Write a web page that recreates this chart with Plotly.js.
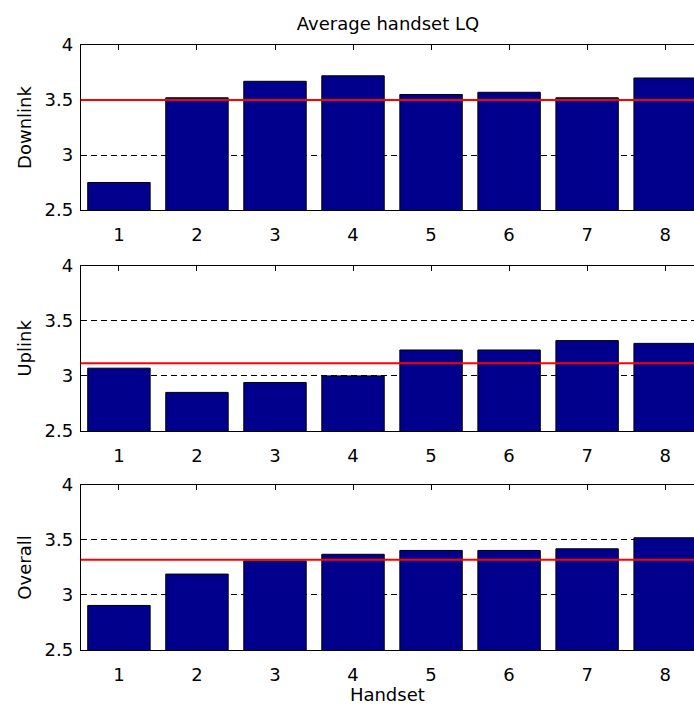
<!DOCTYPE html>
<html>
<head>
<meta charset="utf-8">
<script src="https://cdn.plot.ly/plotly-3.0.1.min.js"></script>
<style>
html, body { margin:0; padding:0; background:#fff; overflow:hidden; }
#chart { width:694px; height:705px; }
</style>
</head>
<body>
<div id="chart"></div>
<script>
// ---- data ----
const handsets = [1, 2, 3, 4, 5, 6, 7, 8];
const handsetLabels = ['1', '2', '3', '4', '5', '6', '7', '8'];
const downlink = [2.75, 3.52, 3.67, 3.72, 3.55, 3.57, 3.52, 3.70];
const uplink   = [3.07, 2.85, 2.94, 3.00, 3.235, 3.235, 3.32, 3.295];
const overall  = [2.905, 3.19, 3.31, 3.37, 3.405, 3.405, 3.42, 3.52];
const meanLines = [3.50, 3.115, 3.32];           // red reference lines
const panelNames = ['Downlink', 'Uplink', 'Overall'];
const yTicks = [2.5, 3, 3.5, 4];
const yTickText = ['2.5', '3', '3.5', '4'];
const yRange = [2.5, 4];
const xRange = [0.51, 8.37];

const series = [downlink, uplink, overall];
const FONT = 'DejaVu Sans, Liberation Sans, Arial, sans-serif';
const FS = 18;
const barColor = 'rgb(0,0,140)';

const traces = series.map((vals, i) => ({
  type: 'bar',
  x: handsets,
  y: vals,
  width: 0.8,
  xaxis: i === 0 ? 'x' : 'x' + (i + 1),
  yaxis: i === 0 ? 'y' : 'y' + (i + 1),
  marker: { color: barColor, line: { color: '#000', width: 1 } },
  hoverinfo: 'x+y',
  showlegend: false
}));

const domains = [[0.7021, 0.9362], [0.3887, 0.6231], [0.0780, 0.3121]];
const xDomain = [0.1163, 1];

const layout = {
  width: 694, height: 705,
  margin: { l: 0, r: 0, t: 0, b: 0, pad: 0 },
  paper_bgcolor: '#fff', plot_bgcolor: '#fff',
  font: { family: FONT, size: FS, color: '#000' },
  bargap: 0.2,
  title: {
    text: 'Average handset LQ',
    font: { family: FONT, size: FS, color: '#000' },
    x: 388 / 694, xref: 'paper', xanchor: 'center',
    y: 1 - 24 / 705, yref: 'container', yanchor: 'middle'
  },
  shapes: [],
  showlegend: false
};

for (let i = 0; i < 3; i++) {
  const xa = i === 0 ? 'xaxis' : 'xaxis' + (i + 1);
  const ya = i === 0 ? 'yaxis' : 'yaxis' + (i + 1);
  const yid = i === 0 ? 'y' : 'y' + (i + 1);
  const xid = i === 0 ? 'x' : 'x' + (i + 1);
  layout[xa] = {
    domain: xDomain, anchor: yid, range: xRange,
    tickmode: 'array', tickvals: handsets, ticktext: handsetLabels,
    ticks: 'inside', ticklen: 5, tickcolor: '#000', tickwidth: 1,
    ticklabelstandoff: 8,
    showline: true, linecolor: '#000', linewidth: 1, mirror: 'ticks',
    showgrid: false, zeroline: false, layer: 'below traces',
    tickfont: { family: FONT, size: FS, color: '#000' },
    title: i === 2 ? { text: 'Handset', standoff: 7, font: { family: FONT, size: FS, color: '#000' } } : { text: '' },
    fixedrange: true
  };
  layout[ya] = {
    domain: domains[i], anchor: xid, range: yRange,
    tickmode: 'array', tickvals: yTicks, ticktext: yTickText,
    ticks: 'inside', ticklen: 5, tickcolor: '#000', tickwidth: 1,
    ticklabelstandoff: 3,
    showline: true, linecolor: '#000', linewidth: 1, mirror: false,
    showgrid: true, gridcolor: '#000', gridwidth: 1, griddash: '6px,4px',
    zeroline: false, layer: 'below traces',
    tickfont: { family: FONT, size: FS, color: '#000' },
    title: { text: panelNames[i], standoff: 8, font: { family: FONT, size: FS, color: '#000' } },
    fixedrange: true
  };
  layout.shapes.push({
    type: 'line', xref: xid + ' domain', yref: yid,
    x0: 0, x1: 1, y0: meanLines[i], y1: meanLines[i],
    line: { color: 'rgb(255,0,0)', width: 2 }, layer: 'above'
  });
}

Plotly.newPlot('chart', traces, layout, { displayModeBar: false, staticPlot: true });
</script>
</body>
</html>
